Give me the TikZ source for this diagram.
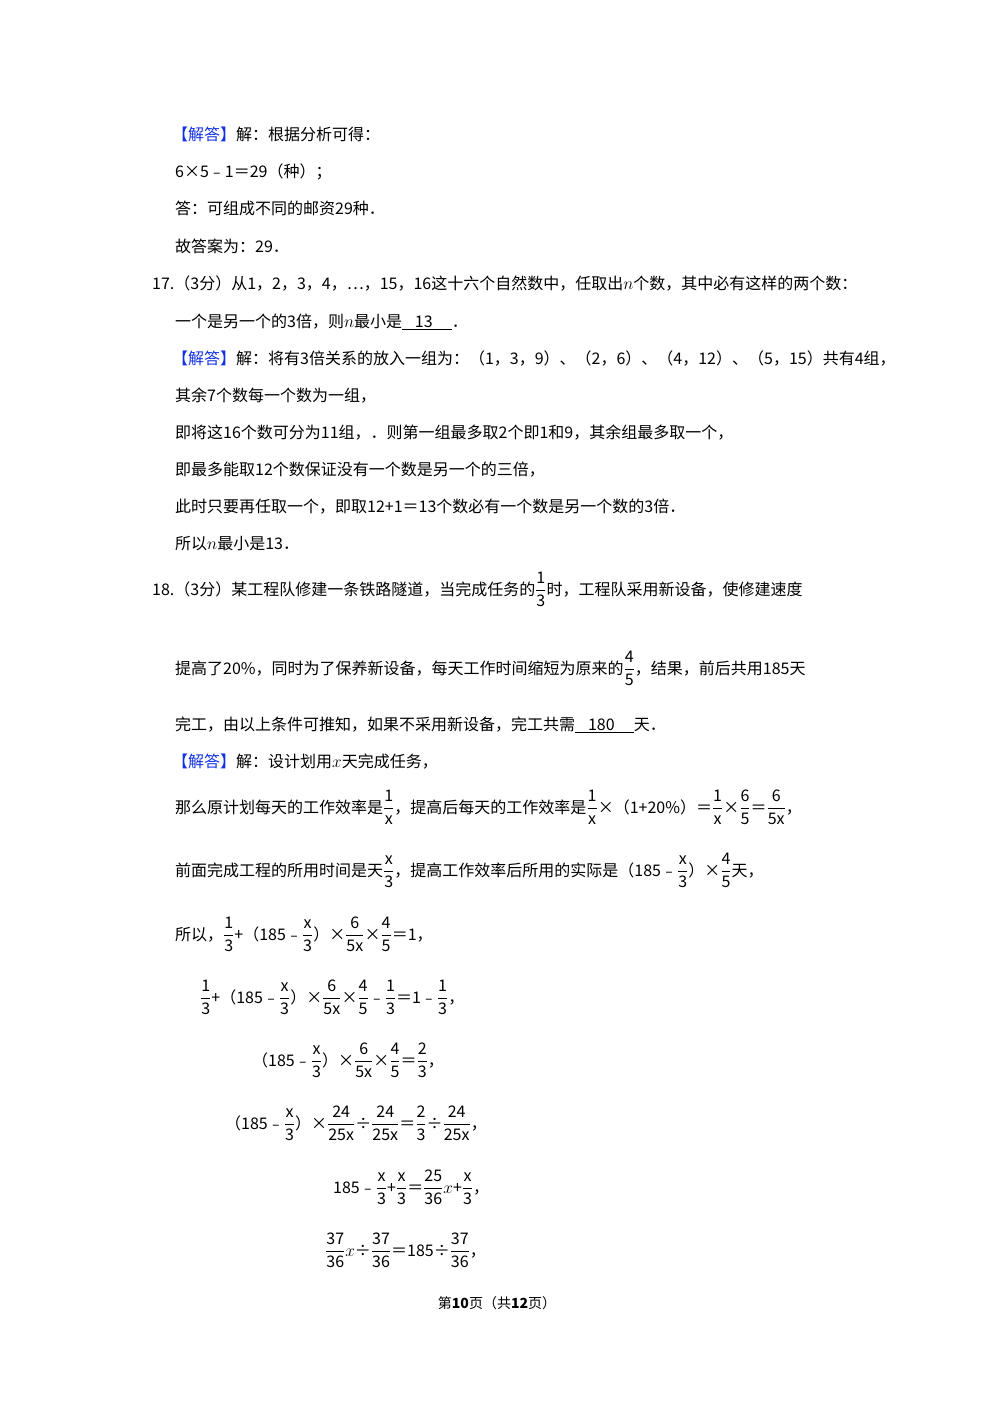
\documentclass[tikz,border=0pt]{standalone}
\usepackage{amsmath}
\usepackage{fontspec}
\setmainfont{Noto Sans CJK SC}
\usepackage{xcolor}
\definecolor{jd}{RGB}{20,50,230}
\newcommand{\jd}{\textcolor{jd}{【解答】}}
\newcommand{\fr}[2]{$\dfrac{\mathrm{#1}}{\mathrm{#2}}$}
\newcommand{\ul}[1]{\underline{\hspace{0.8em}#1\hspace{1.2em}}}
\begin{document}
\begin{tikzpicture}[x=1pt,y=-1pt,
 ln/.style={anchor=base west,inner sep=0,font=\fontsize{16}{19}\selectfont}]
\useasboundingbox[fill=white] (0,0) rectangle (1000,1415);
\node[ln] (a1) at (172,141) {\jd 解：根据分析可得：};
\node[ln] (a2) at (175,178) {6×5﹣1＝29（种）；};
\node[ln] (a3) at (175,215) {答：可组成不同的邮资29种．};
\node[ln] (a4) at (175,252) {故答案为：29．};
\node[ln] (b1) at (152,289) {17.（3分）从1，2，3，4，…，15，16这十六个自然数中，任取出$n$个数，其中必有这样的两个数：};
\node[ln] (b2) at (175,327) {一个是另一个的3倍，则$n$最小是\ul{13}．};
\node[ln] (b3) at (172,364) {\jd 解：将有3倍关系的放入一组为：（1，3，9）、（2，6）、（4，12）、（5，15）共有4组，};
\node[ln] (b4) at (175,401) {其余7个数每一个数为一组，};
\node[ln] (b5) at (175,438) {即将这16个数可分为11组，．则第一组最多取2个即1和9，其余组最多取一个，};
\node[ln] (b6) at (175,475) {即最多能取12个数保证没有一个数是另一个的三倍，};
\node[ln] (b7) at (175,512) {此时只要再任取一个，即取12+1＝13个数必有一个数是另一个数的3倍．};
\node[ln] (b8) at (175,549) {所以$n$最小是13．};
\node[ln] (c1) at (152,595) {18.（3分）某工程队修建一条铁路隧道，当完成任务的\fr{1}{3}时，工程队采用新设备，使修建速度};
\node[ln] (c2) at (175,674) {提高了20\%，同时为了保养新设备，每天工作时间缩短为原来的\fr{4}{5}，结果，前后共用185天};
\node[ln] (c3) at (175,730) {完工，由以上条件可推知，如果不采用新设备，完工共需\ul{180}天．};
\node[ln] (c4) at (172,767) {\jd 解：设计划用$x$天完成任务，};
\node[ln] (c5) at (175,813) {那么原计划每天的工作效率是\fr{1}{x}，提高后每天的工作效率是\fr{1}{x}×（1+20\%）＝\fr{1}{x}×\fr{6}{5}＝\fr{6}{5x}，};
\node[ln] (c6) at (175,876) {前面完成工程的所用时间是天\fr{x}{3}，提高工作效率后所用的实际是（185﹣\fr{x}{3}）×\fr{4}{5}天，};
\node[ln] (c7) at (175,940) {所以，\fr{1}{3}+（185﹣\fr{x}{3}）×\fr{6}{5x}×\fr{4}{5}＝1，};
\node[ln] (c8) at (200,1003) {\fr{1}{3}+（185﹣\fr{x}{3}）×\fr{6}{5x}×\fr{4}{5}﹣\fr{1}{3}＝1﹣\fr{1}{3}，};
\node[ln] (c9) at (252,1066) {（185﹣\fr{x}{3}）×\fr{6}{5x}×\fr{4}{5}＝\fr{2}{3}，};
\node[ln] (c10) at (225,1129) {（185﹣\fr{x}{3}）×\fr{24}{25x}÷\fr{24}{25x}＝\fr{2}{3}÷\fr{24}{25x}，};
\node[ln] (c11) at (333,1193) {185﹣\fr{x}{3}+\fr{x}{3}＝\fr{25}{36}$x$+\fr{x}{3}，};
\node[ln] (c12) at (325,1256) {\fr{37}{36}$x$÷\fr{37}{36}＝185÷\fr{37}{36}，};
\node[ln,anchor=base,font=\fontsize{14}{17}\selectfont] (p) at (497,1308) {第\textbf{10}页（共\textbf{12}页）};
\end{tikzpicture}
\end{document}
